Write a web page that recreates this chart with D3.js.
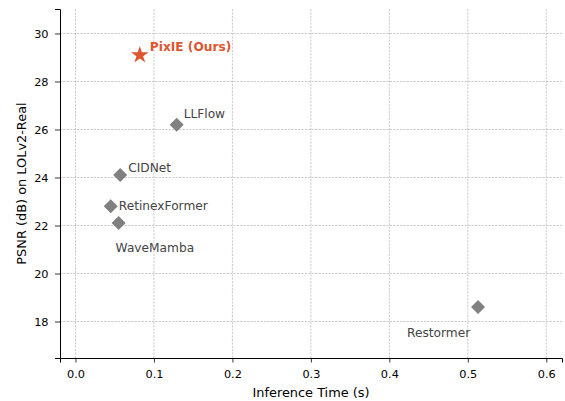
<!DOCTYPE html>
<html>
<head>
<meta charset="utf-8">
<script src="https://cdn.jsdelivr.net/npm/d3@7"></script>
<style>
  body { margin: 0; background: #fff; }
  svg text { font-family: "DejaVu Sans", sans-serif; }
  .grid line { stroke: #b8b8b8; stroke-width: 0.75; stroke-dasharray: 2.2,1.2; }
</style>
</head>
<body>
<svg id="chart" width="565" height="401"></svg>
<script>
const methods = ['PixIE (Ours)', 'LLFlow', 'CIDNet', 'RetinexFormer', 'WaveMamba', 'Restormer'];
const inferTime = [0.082, 0.129, 0.057, 0.045, 0.055, 0.513];
const psnr = [29.1, 26.2, 24.1, 22.8, 22.1, 18.6];
const xTicks = [0.0, 0.1, 0.2, 0.3, 0.4, 0.5, 0.6];
const yTicks = [18, 20, 22, 24, 26, 28, 30];

// label offsets in px from the marker (like offset points)
const labelOffsets = [[10, -4], [7, -7], [8, -3], [8, 4], [-3, 29], [-71, 30]];

const margin = {left: 60, right: 3, top: 9, bottom: 43};
const width = 565, height = 401;

const svg = d3.select('#chart');

const x = d3.scaleLinear()
    .domain([-0.0197, 0.62])
    .range([margin.left, width - margin.right]);
const y = d3.scaleLinear()
    .domain([16.48, 31.02])
    .range([height - margin.bottom, margin.top]);

// grid
svg.append('g').attr('class', 'grid')
    .selectAll('line').data(xTicks)
    .join('line')
    .attr('x1', d => x(d)).attr('x2', d => x(d))
    .attr('y1', y.range()[0]).attr('y2', y.range()[1]);
svg.append('g').attr('class', 'grid')
    .selectAll('line').data(yTicks)
    .join('line')
    .attr('y1', d => y(d)).attr('y2', d => y(d))
    .attr('x1', x.range()[0]).attr('x2', x.range()[1]);

// axes
const xAxis = svg.append('g')
    .attr('transform', 'translate(0,' + (height - margin.bottom) + ')')
    .call(d3.axisBottom(x).tickValues(xTicks).tickFormat(d3.format('.1f')).tickSizeOuter(0).tickSize(4.5).tickPadding(7.5));
const yAxis = svg.append('g')
    .attr('transform', 'translate(' + margin.left + ',0)')
    .call(d3.axisLeft(y).tickValues(yTicks).tickFormat(d3.format('d')).tickSizeOuter(0).tickSize(5).tickPadding(6.5));

[xAxis, yAxis].forEach(a => {
    a.select('.domain').attr('stroke', '#000').attr('stroke-width', 1);
    a.selectAll('.tick line').attr('stroke', '#000').attr('stroke-width', 0.8);
    a.selectAll('.tick text').attr('fill', '#000').style('font-size', '11.3px');
});

svg.append('text')
    .attr('x', (x.range()[0] + x.range()[1]) / 2)
    .attr('y', 397)
    .attr('text-anchor', 'middle')
    .style('font-size', '12.9px')
    .text('Inference Time (s)');

svg.append('text')
    .attr('transform', 'translate(26,' + ((y.range()[0] + y.range()[1]) / 2) + ') rotate(-90)')
    .attr('text-anchor', 'middle')
    .style('font-size', '12.9px')
    .text('PSNR (dB) on LOLv2-Real');

const data = methods.map((m, i) => ({name: m, t: inferTime[i], p: psnr[i], off: labelOffsets[i], ours: i === 0}));

const star = d3.symbol().type(d3.symbolStar).size(95);
const diamond = d3.symbol().type(d3.symbolSquare).size(98);

svg.append('g').selectAll('path').data(data)
    .join('path')
    .attr('d', d => d.ours ? star() : diamond())
    .attr('transform', d => 'translate(' + x(d.t) + ',' + y(d.p) + ')' + (d.ours ? '' : ' rotate(45)'))
    .attr('fill', d => d.ours ? '#de5530' : '#808080');

svg.append('g').selectAll('text').data(data)
    .join('text')
    .attr('x', d => x(d.t) + d.off[0])
    .attr('y', d => y(d.p) + d.off[1])
    .attr('fill', d => d.ours ? '#de5530' : '#444444')
    .style('font-size', '12.2px')
    .style('font-weight', d => d.ours ? 'bold' : 'normal')
    .text(d => d.name);
</script>
</body>
</html>
